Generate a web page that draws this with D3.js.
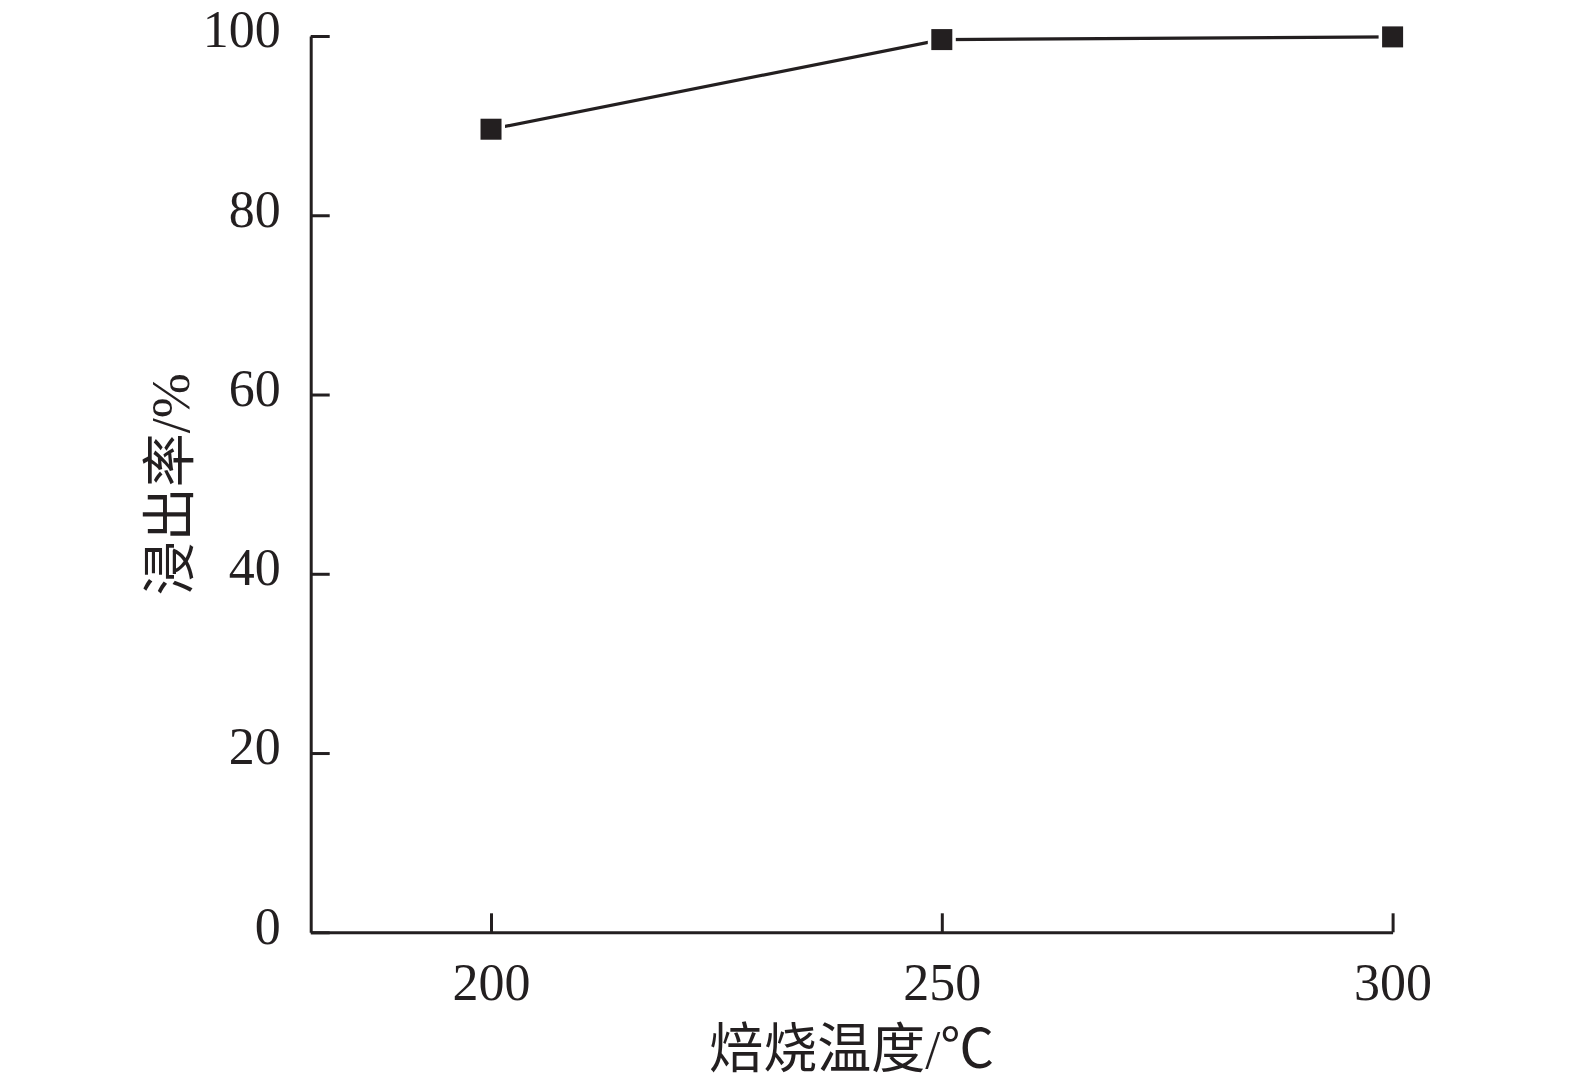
<!DOCTYPE html>
<html>
<head>
<meta charset="utf-8">
<script src="https://cdn.jsdelivr.net/npm/d3@7"></script>
<style>
  html, body { margin: 0; padding: 0; background: #fff; }
  svg { display: block; }
</style>
</head>
<body>
<svg id="chart" width="1575" height="1088"></svg>
<script>
// Data
const temperatures = [200, 250, 300];
const leachRates = [89.6, 99.6, 99.9];
const xTicks = [200, 250, 300];
const yTicks = [0, 20, 40, 60, 80, 100];
const xTitle = "焙烧温度/℃";
const yTitle = "浸出率/%";

const ink = "#231f20";
const svg = d3.select("#chart");
const W = 1575, H = 1088;
const margin = { left: 310.7, right: W - 1392.6, top: 36, bottom: H - 932.3 };

const x = d3.scaleLinear().domain([180, 300]).range([margin.left, W - margin.right]);
const y = d3.scaleLinear().domain([0, 100]).range([H - margin.bottom, margin.top]);

const fontNum = "'Liberation Serif', 'Times New Roman', serif";
const fontMix = "'Liberation Serif', 'Noto Sans CJK SC', serif";

// X axis
const xAxis = svg.append("g")
  .attr("transform", `translate(0,${y(0)})`)
  .call(d3.axisBottom(x).tickValues(xTicks).tickSizeInner(-19).tickSizeOuter(0).tickPadding(31));
xAxis.select(".domain").attr("stroke", ink).attr("stroke-width", 3);
xAxis.selectAll(".tick line").attr("stroke", ink).attr("stroke-width", 3);
xAxis.selectAll(".tick text")
  .attr("font-family", fontNum).attr("font-size", 52).attr("fill", ink);

// Y axis
const yAxis = svg.append("g")
  .attr("transform", `translate(${x(180)},0)`)
  .call(d3.axisLeft(y).tickValues(yTicks).tickSizeInner(-19).tickSizeOuter(0).tickPadding(30));
yAxis.select(".domain").attr("stroke", ink).attr("stroke-width", 3);
yAxis.selectAll(".tick line").attr("stroke", ink).attr("stroke-width", 3);
yAxis.selectAll(".tick text")
  .attr("font-family", fontNum).attr("font-size", 52).attr("fill", ink)
  .attr("dy", "0.21em");

// Line
const pts = temperatures.map((t, i) => ({ t, v: leachRates[i] }));
svg.append("path")
  .datum(pts)
  .attr("fill", "none")
  .attr("stroke", ink)
  .attr("stroke-width", 3.3)
  .attr("d", d3.line().x(d => x(d.t)).y(d => y(d.v)));

// Markers
const s = 21;
svg.selectAll("rect.marker")
  .data(pts)
  .enter().append("rect")
  .attr("class", "marker")
  .attr("x", d => x(d.t) - s / 2)
  .attr("y", d => y(d.v) - s / 2)
  .attr("width", s).attr("height", s)
  .attr("fill", ink)
  .attr("stroke", "#fff")
  .attr("stroke-width", 7)
  .attr("paint-order", "stroke");

// Axis titles
svg.append("text")
  .attr("x", (x(180) + x(300)) / 2)
  .attr("y", 1068)
  .attr("text-anchor", "middle")
  .attr("font-family", fontMix)
  .attr("font-size", 54)
  .attr("fill", ink)
  .text(xTitle);

svg.append("text")
  .attr("transform", `translate(189,${(y(0) + y(100)) / 2}) rotate(-90)`)
  .attr("text-anchor", "middle")
  .attr("font-family", fontMix)
  .attr("font-size", 54)
  .attr("fill", ink)
  .text(yTitle);
</script>
</body>
</html>
